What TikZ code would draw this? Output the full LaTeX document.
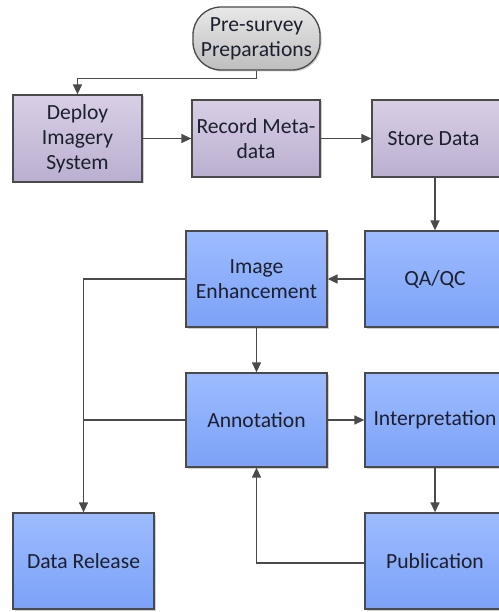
\documentclass[tikz,border=0pt]{standalone}
\usepackage{fontspec}
\setmainfont{Carlito}
\usetikzlibrary{arrows.meta,shadows}
\definecolor{lnc}{HTML}{4A4A4A}
\definecolor{txt}{HTML}{1C1F2E}
\definecolor{pTop}{HTML}{D8CFE5}
\definecolor{pBot}{HTML}{BBAFD0}
\definecolor{bTop}{HTML}{9DBCFF}
\definecolor{bBot}{HTML}{7CA1F7}
\definecolor{gTop}{HTML}{E8E8E8}
\definecolor{gBot}{HTML}{BEBEBE}
\begin{document}
\begin{tikzpicture}[x=1pt,y=-1pt,
  box/.style={draw=lnc, line width=1.3pt, font=\fontsize{21.6}{25}\selectfont, text=txt,
    align=center, inner sep=0pt,
    drop shadow={shadow xshift=1.5pt, shadow yshift=-1.5pt, fill=black, opacity=0.18}},
  purp/.style={box, top color=pTop, bottom color=pBot},
  blu/.style={box, top color=bTop, bottom color=bBot},
  grayb/.style={box, top color=gTop, bottom color=gBot, rounded corners=28pt},
  arr/.style={draw=lnc, line width=1.4pt, -{Triangle[length=10pt,width=9pt]}},
  ln/.style={draw=lnc, line width=1.4pt}]
\useasboundingbox (0,0) rectangle (498,612);
\fill[white] (0,0) rectangle (498,612);

\node[grayb, minimum width=127pt, minimum height=63pt] (pre) at (256.5,38.5) {Pre-survey\\Preparations};
\node[purp, minimum width=129pt, minimum height=87pt] (dep) at (77.5,138.5) {Deploy\\Imagery\\System};
\node[purp, minimum width=128pt, minimum height=77pt] (rec) at (256,138.5) {Record Meta-\\data};
\node[purp, minimum width=133pt, minimum height=77pt] (sto) at (438.5,138.5) {Store Data\hspace*{10pt}};

\node[blu, minimum width=141pt, minimum height=96pt] (ie) at (256.5,279) {Image\\Enhancement};
\node[blu, minimum width=140pt, minimum height=96pt] (qa) at (435,279) {QA/QC};
\node[blu, minimum width=141pt, minimum height=94pt] (ann) at (256.5,420) {Annotation};
\node[blu, minimum width=140pt, minimum height=94pt] (int) at (435,420) {Interpretation};
\node[blu, minimum width=141pt, minimum height=96pt] (dr) at (83.5,561) {Data Release};
\node[blu, minimum width=140pt, minimum height=96pt] (pub) at (435,561) {Publication};

\draw[arr] (pre.south) -- ++(0,8) -| (dep.north);
\draw[arr] (dep.east |- rec.west) -- (rec.west);
\draw[arr] (rec.east) -- (sto.west);
\draw[arr] (qa.north |- sto.south) -- (qa.north);
\draw[arr] (qa.west) -- (ie.east);
\draw[arr] (ie.south) -- (ann.north);
\draw[arr] (ann.east) -- (int.west);
\draw[arr] (int.south) -- (pub.north);
\draw[arr] ([yshift=-2pt]pub.west) -| (ann.south);
\draw[arr] (ie.west) -| (dr.north);
\draw[ln] (ann.west) -- (ann.west -| dr.north);
\end{tikzpicture}
\end{document}
